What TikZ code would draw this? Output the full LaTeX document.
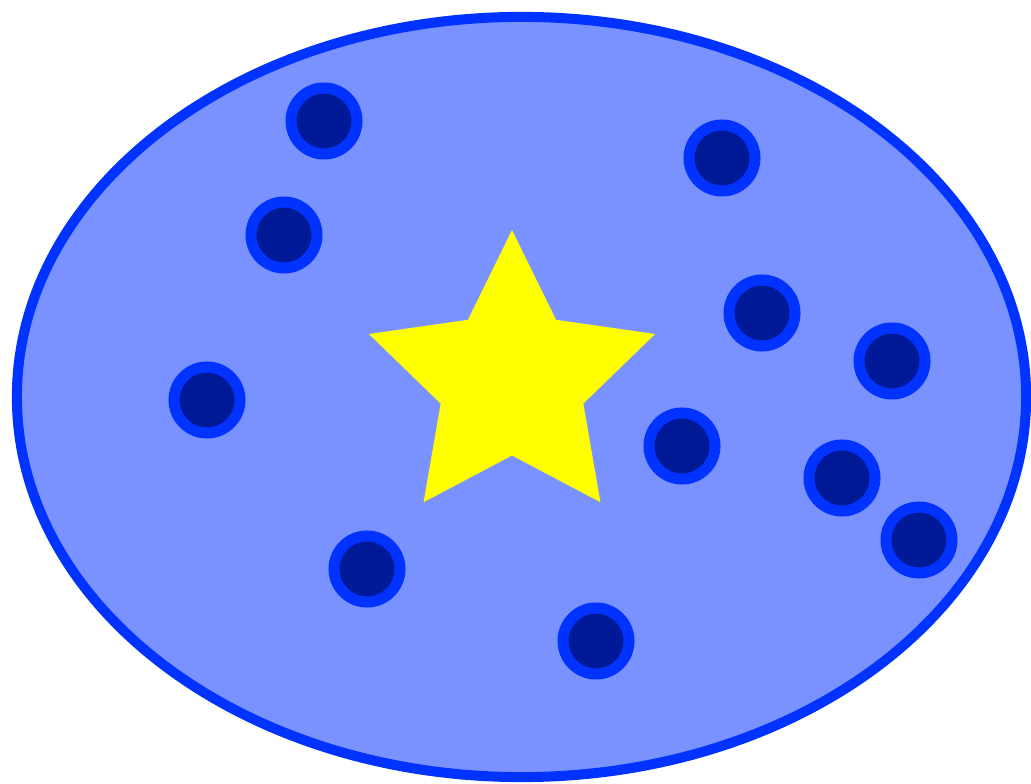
\documentclass[tikz,border=0pt]{standalone}
\usepackage{tikz}
\usepackage{xcolor}
\usetikzlibrary{shapes.geometric}
\definecolor{cPond}{RGB}{122,146,255}
\definecolor{cEdge}{RGB}{0,51,255}
\definecolor{cDark}{RGB}{0,25,150}
\definecolor{cStar}{RGB}{255,255,0}
\tikzset{
    pond/.style={ellipse, draw=cEdge, fill=cPond, line width=0.25cm, minimum width=25.225cm, minimum height=19cm, inner sep=0pt},
    dot/.style ={circle, draw=cEdge, fill=cDark, line width=0.275cm, minimum size=1.65cm, inner sep=0pt},
    starfill/.style={fill=cStar},
}
\begin{document}
\begin{tikzpicture}[x=0.025cm, y=0.025cm]
        \useasboundingbox (0,0) rectangle (1031,783);
        % background ellipse
        \node[pond] (pond) at (521.5,386) {};
        % star
        \fill[starfill, shift={(512,402.5)}] (90:150.5) -- (126:75) -- (162:150.5) -- (198:75) -- (234:150.5)
            -- (270:75) -- (306:150.5) -- (342:75) -- (18:150.5) -- (54:75) -- cycle;
        % dots
        \foreach \n/\x/\y in {1/324/662, 2/722/625, 3/284/548, 4/762/470, 5/892/422, 6/207/383,
                               7/682/337, 8/842/305, 9/919/243, 10/367/214, 11/596/142} {
            \node[dot] (d\n) at (\x,\y) {};
        }
    \end{tikzpicture}
\end{document}
